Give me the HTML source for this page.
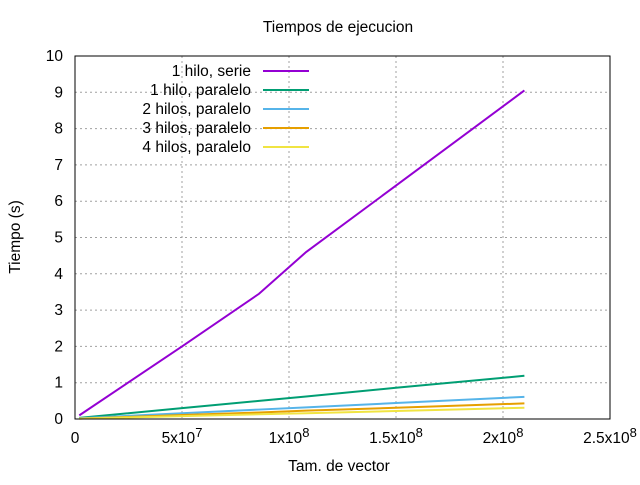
<!DOCTYPE html>
<html><head><meta charset="utf-8"><style>
body{margin:0;background:#fff}
svg{font-family:"Liberation Sans",sans-serif;font-size:15.5px}
</style></head><body>
<svg id="c" width="640" height="480">
<text x="338" y="32" text-anchor="middle">Tiempos de ejecucion</text>
<text transform="translate(20,237) rotate(-90)" text-anchor="middle">Tiempo (s)</text>
<text x="339" y="471" text-anchor="middle">Tam. de vector</text>
<g id="grid"></g><g id="ticks"></g><g id="series"></g><g id="legend"></g>
<rect x="75" y="56" width="535" height="363" fill="none" stroke="#000" stroke-width="1"/>
</svg>
<script>
const xs=[2e6,5e7,8.6e7,1.08e8,1.5e8,2.1e8];
const serie1=[0.1,2.0,3.45,4.6,6.43,9.05];
const par1=[0.03,0.3,0.5,0.62,0.86,1.19];
const par2=[0.02,0.16,0.26,0.32,0.44,0.61];
const par3=[0.01,0.11,0.18,0.23,0.31,0.43];
const par4=[0.01,0.08,0.13,0.16,0.22,0.31];
const names=["1 hilo, serie","1 hilo, paralelo","2 hilos, paralelo","3 hilos, paralelo","4 hilos, paralelo"];
const colors=["#9400d3","#009e73","#56b4e9","#e69f00","#f0e442"];
const yTicks=[0,1,2,3,4,5,6,7,8,9,10];
const xTicks=[0,5e7,1e8,1.5e8,2e8,2.5e8];
const xTickLabels=[["0",""],["5x10","7"],["1x10","8"],["1.5x10","8"],["2x10","8"],["2.5x10","8"]];
const NS="http://www.w3.org/2000/svg";
const X=v=>75+v/2.5e8*535, Y=v=>419-v/10*363;
function mk(t,a,p){const e=document.createElementNS(NS,t);for(const k in a)e.setAttribute(k,a[k]);p.appendChild(e);return e;}
const g=document.getElementById('grid'),tk=document.getElementById('ticks');
yTicks.forEach(v=>{
 if(v>0&&v<10){const l=mk('line',{x1:75,x2:610,y1:Y(v),y2:Y(v),stroke:'#a0a0a0','stroke-dasharray':'2,3'},g);
 
 }
 const t=mk('text',{x:63,y:Y(v)+5,'text-anchor':'end'},tk);t.textContent=v;
 
 
});
xTicks.forEach((v,i)=>{
 if(v>0&&v<2.5e8){const l=mk('line',{x1:X(v),x2:X(v),y1:56,y2:419,stroke:'#a0a0a0','stroke-dasharray':'2,3'},g);
 
 }
 const t=mk('text',{x:X(v),y:443,'text-anchor':'middle'},tk);
 
 
 t.textContent=xTickLabels[i][0];
 if(xTickLabels[i][1]){const s=mk('tspan',{dy:-6,'font-size':'13'},t);s.textContent=xTickLabels[i][1];}
});
const sg=document.getElementById('series'),lg=document.getElementById('legend');
[serie1,par1,par2,par3,par4].forEach((d,i)=>{
 const p=mk('polyline',{points:d.map((v,j)=>X(xs[j])+','+Y(v)).join(' '),fill:'none',stroke:colors[i],'stroke-width':2},sg);
 
 
 const y=71+i*19;
 const t=mk('text',{x:251,y:y+5,'text-anchor':'end'},lg);t.textContent=names[i];
 
 
 const l=mk('line',{x1:263,x2:309,y1:y,y2:y,stroke:colors[i],'stroke-width':2},lg);
 
 
});
</script>
</body></html>
